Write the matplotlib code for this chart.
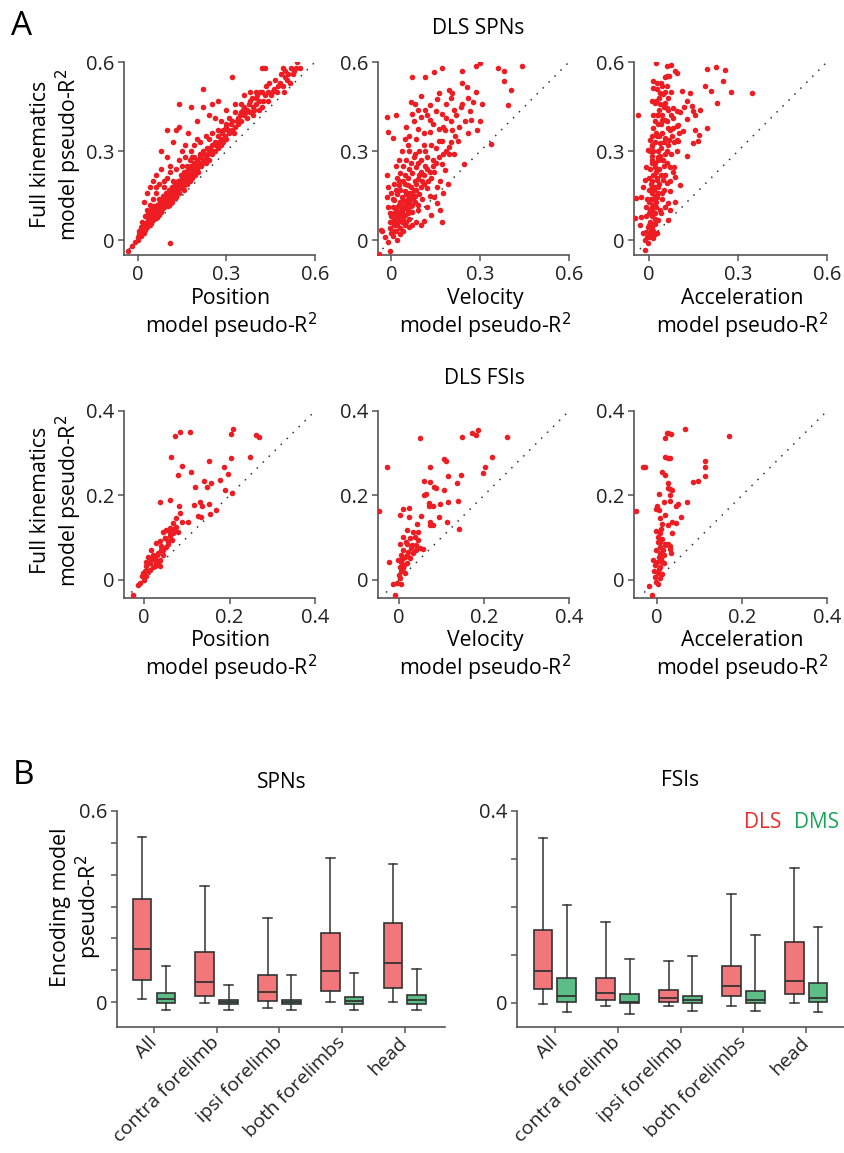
import matplotlib
matplotlib.use('Agg')
import matplotlib.pyplot as plt
import numpy as np

plt.rcParams['font.family'] = ['Open Sans', 'DejaVu Sans']

# ---- panel A data: (single-variable model R2, full model R2) ----
spn_pos = [
    (-0.035, -0.035), (-0.02, -0.02), (-0.01, -0.005), (0.0, 0.0), (0.0, 0.01), (0.005, 0.02), (0.01, 0.015),
    (0.01, 0.03), (0.015, 0.04), (0.02, 0.025), (0.02, 0.05), (0.025, 0.035), (0.03, 0.06), (0.03, 0.045),
    (0.035, 0.07), (0.04, 0.05), (0.04, 0.08), (0.045, 0.06), (0.05, 0.075), (0.05, 0.09), (0.055, 0.07),
    (0.06, 0.1), (0.06, 0.08), (0.065, 0.09), (0.07, 0.11), (0.07, 0.085), (0.075, 0.1), (0.08, 0.12),
    (0.08, 0.095), (0.085, 0.13), (0.09, 0.11), (0.09, 0.14), (0.095, 0.12), (0.1, 0.13), (0.1, 0.15),
    (0.105, 0.12), (0.11, 0.14), (0.11, 0.16), (0.115, 0.13), (0.12, 0.15), (0.12, 0.17), (0.125, 0.16),
    (0.13, 0.18), (0.13, 0.15), (0.135, 0.17), (0.14, 0.2), (0.14, 0.16), (0.145, 0.18), (0.15, 0.19),
    (0.15, 0.21), (0.155, 0.17), (0.16, 0.2), (0.16, 0.22), (0.165, 0.19), (0.17, 0.21), (0.17, 0.24),
    (0.175, 0.2), (0.18, 0.22), (0.18, 0.25), (0.185, 0.21), (0.19, 0.23), (0.19, 0.26), (0.195, 0.22),
    (0.2, 0.24), (0.2, 0.27), (0.205, 0.23), (0.21, 0.26), (0.21, 0.29), (0.215, 0.25), (0.22, 0.27),
    (0.22, 0.3), (0.23, 0.26), (0.23, 0.28), (0.235, 0.31), (0.24, 0.27), (0.24, 0.3), (0.25, 0.29),
    (0.25, 0.32), (0.26, 0.3), (0.26, 0.33), (0.27, 0.31), (0.27, 0.35), (0.28, 0.32), (0.28, 0.34),
    (0.29, 0.33), (0.29, 0.37), (0.3, 0.34), (0.3, 0.38), (0.31, 0.36), (0.32, 0.37), (0.32, 0.4),
    (0.33, 0.38), (0.34, 0.39), (0.34, 0.41), (0.35, 0.4), (0.35, 0.43), (0.36, 0.42), (0.36, 0.45),
    (0.37, 0.41), (0.37, 0.44), (0.38, 0.43), (0.38, 0.47), (0.39, 0.45), (0.39, 0.42), (0.4, 0.46),
    (0.4, 0.48), (0.41, 0.44), (0.41, 0.47), (0.42, 0.5), (0.42, 0.45), (0.43, 0.49), (0.44, 0.47),
    (0.44, 0.5), (0.45, 0.49), (0.46, 0.51), (0.47, 0.5), (0.48, 0.53), (0.49, 0.52), (0.5, 0.55),
    (0.51, 0.56), (0.52, 0.58), (0.53, 0.57), (0.54, 0.6), (0.55, 0.58), (0.5, 0.57), (0.49, 0.58),
    (0.43, 0.58), (0.42, 0.58), (0.32, 0.55), (0.22, 0.51), (0.14, 0.46), (0.18, 0.45), (0.22, 0.45),
    (0.25, 0.46), (0.27, 0.47), (0.1, 0.37), (0.13, 0.37), (0.14, 0.38), (0.17, 0.36), (0.2, 0.4),
    (0.24, 0.42), (0.26, 0.41), (0.3, 0.44), (0.33, 0.43), (0.28, 0.4), (0.08, 0.3), (0.1, 0.28),
    (0.12, 0.33), (0.15, 0.3), (0.16, 0.32), (0.11, 0.25), (0.06, 0.22), (0.08, 0.24), (0.05, 0.2),
    (0.07, 0.19), (0.03, 0.16), (0.04, 0.18), (0.02, 0.13), (0.05, 0.14), (0.1, 0.21), (0.13, 0.24),
    (0.18, 0.3), (0.2, 0.34), (0.23, 0.35), (0.25, 0.36), (0.19, 0.28), (0.15, 0.25), (0.12, 0.2),
    (0.09, 0.18), (0.06, 0.16), (0.03, 0.1), (0.04, 0.12), (0.07, 0.14), (0.11, -0.01),
    (0.015, 0.06), (0.025, 0.08), (0.035, 0.095), (0.045, 0.1), (0.055, 0.115), (0.065, 0.12),
    (0.075, 0.13), (0.085, 0.15), (0.095, 0.16), (0.105, 0.17), (0.115, 0.18), (0.125, 0.19),
    (0.135, 0.2), (0.145, 0.22), (0.155, 0.23), (0.165, 0.25), (0.175, 0.27), (0.185, 0.28),
    (0.005, 0.03), (0.012, 0.045), (0.018, 0.05), (0.022, 0.04), (0.028, 0.055), (0.032, 0.05),
    (0.038, 0.065), (0.042, 0.07), (0.048, 0.065), (0.052, 0.08), (0.058, 0.085), (0.062, 0.075),
    (0.068, 0.1), (0.072, 0.095), (0.078, 0.11), (0.082, 0.105), (0.088, 0.12), (0.092, 0.125),
    (0.098, 0.14), (0.102, 0.115), (0.108, 0.15), (0.112, 0.125), (0.118, 0.14), (0.122, 0.16),
    (0.128, 0.145), (0.132, 0.165), (0.138, 0.19), (0.142, 0.175), (0.148, 0.2), (0.152, 0.18),
    (0.158, 0.21), (0.162, 0.19), (0.168, 0.22), (0.172, 0.23), (0.178, 0.24), (0.182, 0.235),
    (0.188, 0.25), (0.192, 0.24), (0.198, 0.26), (0.205, 0.25), (0.212, 0.28), (0.218, 0.26),
    (0.225, 0.29), (0.232, 0.27), (0.238, 0.29), (0.245, 0.31), (0.255, 0.3), (0.265, 0.32),
    (0.275, 0.33), (0.285, 0.36), (0.295, 0.35), (0.305, 0.37), (0.315, 0.39), (0.325, 0.36),
    (0.335, 0.4), (0.345, 0.42), (0.355, 0.44), (0.365, 0.43), (0.375, 0.46), (0.385, 0.48),
    (0.395, 0.44), (0.405, 0.49), (0.415, 0.5), (0.425, 0.47), (0.435, 0.52), (0.445, 0.53),
    (0.455, 0.5), (0.465, 0.54), (0.475, 0.52), (0.485, 0.56), (0.495, 0.5), (0.505, 0.54),
    (0.515, 0.53), (0.525, 0.56), (0.535, 0.58), (0.06, 0.18), (0.09, 0.2), (0.11, 0.23), (0.14, 0.27),
    (0.16, 0.28), (0.19, 0.32), (0.21, 0.33), (0.24, 0.34), (0.27, 0.37), (0.3, 0.39), (0.31, 0.41),
    (0.35, 0.46), (0.38, 0.5), (0.4, 0.5), (0.36, 0.49), (0.33, 0.46),
]

spn_vel = [
    (-0.04, -0.045), (-0.005, -0.035), (-0.03, 0.03), (-0.02, 0.01), (-0.01, -0.005), (-0.035, 0.035),
    (-0.015, 0.415), (-0.01, 0.365), (0.005, 0.345), (0.015, 0.42), (-0.015, 0.22), (-0.01, 0.18),
    (-0.015, 0.145), (-0.01, 0.11), (0.07, 0.55), (0.115, 0.55), (0.145, 0.565), (0.17, 0.58),
    (0.285, 0.585), (0.3, 0.595), (0.36, 0.58), (0.38, 0.57), (0.44, 0.585), (0.38, 0.535),
    (0.405, 0.505), (0.395, 0.455), (0.335, 0.325), (0.245, 0.255), (0.24, 0.57), (0.255, 0.515),
    (0.24, 0.53), (0.285, 0.5), (0.275, 0.465), (0.265, 0.435), (0.305, 0.46), (0.3, 0.4), (0.29, 0.37),
    (0.26, 0.36), (0.27, 0.405), (0.235, 0.45), (0.195, 0.505), (0.205, 0.495), (0.2, 0.48),
    (0.185, 0.46), (0.16, 0.495), (0.155, 0.475), (0.13, 0.455), (0.115, 0.44), (0.15, 0.435),
    (0.17, 0.425), (0.13, 0.405), (0.1, 0.485), (0.1, 0.415), (0.08, 0.46), (0.07, 0.425), (0.065, 0.465),
    (0.09, 0.375), (0.085, 0.34), (0.05, 0.38), (0.06, 0.35), (0.045, 0.34), (0.095, 0.3), (0.115, 0.3),
    (0.135, 0.32), (0.16, 0.335), (0.17, 0.335), (0.195, 0.315), (0.195, 0.29), (0.21, 0.29),
    (0.225, 0.335), (0.205, 0.37), (0.18, 0.37), (0.16, 0.375), (0.13, 0.365), (0.11, 0.36), (0.08, 0.29),
    (0.06, 0.3), (0.05, 0.27), (0.04, 0.25), (0.03, 0.225), (0.04, 0.2), (0.055, 0.21), (0.07, 0.225),
    (0.085, 0.245), (0.1, 0.23), (0.115, 0.25), (0.125, 0.2), (0.135, 0.21), (0.145, 0.23), (0.155, 0.18),
    (0.145, 0.145), (0.13, 0.15), (0.12, 0.175), (0.105, 0.14), (0.095, 0.155), (0.085, 0.17),
    (0.07, 0.16), (0.055, 0.14), (0.045, 0.165), (0.03, 0.17), (0.02, 0.155), (0.01, 0.135),
    (0.005, 0.11), (0.015, 0.1), (0.025, 0.12), (0.04, 0.135), (0.05, 0.11), (0.065, 0.115),
    (0.08, 0.13), (0.07, 0.095), (0.055, 0.09), (0.04, 0.075), (0.025, 0.065), (0.01, 0.05),
    (-0.005, 0.04), (0.0, 0.025), (0.015, 0.03), (0.03, 0.04), (0.045, 0.05), (0.06, 0.07), (0.09, 0.1),
    (0.1, 0.05), (0.11, 0.065), (0.17, 0.06), (0.165, 0.1), (0.135, 0.085), (0.12, 0.11), (0.155, 0.125),
    (0.085, 0.06), (0.02, 0.0), (0.015, 0.075), (0.035, 0.09), (0.05, 0.06), (0.02, 0.085),
    (0.035, 0.105), (0.06, 0.125), (0.075, 0.145), (0.09, 0.12), (0.1, 0.18), (0.11, 0.19),
    (0.065, 0.18), (0.05, 0.155), (0.035, 0.145), (0.025, 0.185), (0.045, 0.22), (0.065, 0.26),
    (0.075, 0.28), (0.1, 0.27), (0.12, 0.28), (0.14, 0.27), (0.17, 0.255), (0.18, 0.235), (0.165, 0.2),
    (0.19, 0.19), (0.175, 0.16), (0.06, 0.045), (0.03, 0.02), (0.005, 0.065), (0.01, 0.09),
    (0.04, 0.03), (0.07, 0.05), (0.02, 0.11), (0.03, 0.13), (0.045, 0.12), (0.06, 0.15), (0.025, 0.2),
    (0.055, 0.185), (0.08, 0.2), (0.02, 0.05), (0.04, 0.105), (0.01, 0.07),
    (0.005, 0.015), (0.01, 0.03), (0.015, 0.05), (0.02, 0.065), (0.025, 0.08), (0.03, 0.095),
    (0.035, 0.06), (0.04, 0.115), (0.045, 0.085), (0.05, 0.13), (0.055, 0.1), (0.06, 0.16),
    (0.065, 0.14), (0.07, 0.12), (0.075, 0.17), (0.08, 0.15), (0.085, 0.19), (0.09, 0.205),
    (0.095, 0.22), (0.105, 0.2), (0.11, 0.22), (0.12, 0.24), (0.13, 0.23), (0.14, 0.25), (0.15, 0.26),
    (0.16, 0.28), (0.175, 0.29), (0.185, 0.3), (0.2, 0.33), (0.215, 0.35), (0.23, 0.38), (0.25, 0.4),
    (0.22, 0.42), (0.21, 0.44), (0.185, 0.41), (0.14, 0.39), (0.12, 0.42), (0.09, 0.44), (0.075, 0.4),
    (0.055, 0.32), (0.035, 0.3), (0.025, 0.27), (0.015, 0.25), (0.02, 0.21), (0.01, 0.19), (0.0, 0.16),
    (0.005, 0.14), (-0.005, 0.09), (-0.005, 0.06), (0.0, 0.08), (0.015, 0.17), (0.045, 0.19),
    (0.06, 0.24), (0.09, 0.26), (0.11, 0.32), (0.15, 0.31), (0.175, 0.38), (0.2, 0.4), (0.24, 0.46),
    (0.26, 0.48),
]

spn_acc = [
    (0.024, 0.598), (0.062, 0.587), (0.073, 0.589), (0.062, 0.553), (0.069, 0.553), (0.088, 0.57),
    (0.094, 0.564), (0.015, 0.536), (0.026, 0.53), (0.015, 0.513), (0.028, 0.508), (0.037, 0.496),
    (0.049, 0.491), (0.065, 0.48), (0.009, 0.468), (0.02, 0.462), (0.037, 0.457), (0.054, 0.462),
    (0.06, 0.446), (0.082, 0.446), (0.094, 0.434), (0.026, 0.423), (0.043, 0.406), (0.054, 0.406),
    (0.065, 0.378), (0.082, 0.378), (0.094, 0.384), (0.015, 0.378), (0.026, 0.35), (0.003, 0.338),
    (-0.002, 0.305), (0.009, 0.316), (0.037, 0.327), (0.054, 0.344), (0.069, 0.338), (0.077, 0.35),
    (0.094, 0.338), (0.037, 0.282), (0.049, 0.271), (0.06, 0.259), (0.071, 0.248), (0.082, 0.231),
    (0.02, 0.248), (0.032, 0.271), (0.009, 0.282), (-0.008, 0.248), (-0.014, 0.203), (-0.019, 0.18),
    (-0.025, 0.147), (0.009, 0.18), (0.026, 0.203), (0.049, 0.203), (0.06, 0.192), (0.043, 0.158),
    (0.026, 0.147), (0.003, 0.135), (-0.008, 0.113), (0.009, 0.102), (0.02, 0.09), (0.037, 0.102),
    (0.054, 0.113), (0.065, 0.124), (0.032, 0.068), (0.015, 0.056), (-0.002, 0.045), (-0.008, 0.028),
    (-0.019, 0.023), (0.003, 0.011), (0.015, 0.006), (0.026, 0.023), (-0.025, 0.079), (-0.03, 0.051),
    (-0.014, 0.0), (-0.002, -0.011), (0.005, 0.06), (0.01, 0.08), (0.015, 0.12), (0.02, 0.15),
    (0.0, 0.17), (0.012, 0.2), (0.018, 0.22), (0.005, 0.24), (0.022, 0.26), (0.03, 0.18), (0.008, 0.14),
    (0.0, 0.09), (0.025, 0.11), (0.015, 0.03), (0.005, 0.02), (0.03, 0.3), (0.04, 0.22), (0.045, 0.36),
    (0.01, 0.32), (0.02, 0.4), (0.05, 0.25), (0.06, 0.3), (0.035, 0.44), (0.045, 0.52), (0.075, 0.42),
    (0.055, 0.55), (-0.038, 0.423), (-0.042, 0.141), (-0.047, 0.073), (-0.014, -0.034),
    (0.195, 0.578), (0.226, 0.584), (0.257, 0.573), (0.249, 0.536), (0.276, 0.5), (0.347, 0.496),
    (0.189, 0.519), (0.209, 0.502), (0.229, 0.462), (0.195, 0.378), (0.169, 0.355), (0.167, 0.333),
    (0.15, 0.327), (0.156, 0.372), (0.127, 0.284), (0.144, 0.451), (0.15, 0.434), (0.156, 0.423),
    (0.173, 0.44), (0.139, 0.496), (0.111, 0.502), (0.116, 0.367), (0.127, 0.408), (0.099, 0.389),
    (0.099, 0.333), (0.094, 0.299), (0.105, 0.186), (0.088, 0.13), (0.071, 0.102), (0.065, 0.068),
    (0.086, 0.248), (0.088, 0.214), (0.071, 0.164), (0.01, 0.04), (0.02, 0.07), (0.0, 0.13),
    (0.018, 0.17), (0.028, 0.21), (0.01, 0.26), (0.035, 0.24), (0.015, 0.3), (0.04, 0.31), (0.025, 0.36),
    (0.05, 0.33), (0.03, 0.39), (0.045, 0.42), (0.055, 0.5), (0.035, 0.48), (0.012, 0.11), (0.006, 0.19),
    (0.0, 0.05), (0.005, 0.1), (0.015, 0.14), (0.02, 0.18), (0.0, 0.21), (0.025, 0.23), (0.012, 0.27),
    (0.03, 0.28), (0.005, 0.3), (0.02, 0.33), (0.035, 0.35), (0.01, 0.35), (0.03, 0.42), (0.04, 0.39),
    (0.05, 0.45), (0.025, 0.47), (0.04, 0.53), (0.06, 0.52), (0.015, 0.22), (0.01, 0.16), (0.025, 0.13),
    (0.03, 0.16), (0.035, 0.19), (0.045, 0.27), (0.055, 0.29), (0.065, 0.32), (0.07, 0.37), (0.08, 0.41),
    (0.06, 0.4), (0.015, 0.42), (-0.005, 0.14), (-0.01, 0.08), (0.02, 0.02), (0.008, 0.03),
    (-0.005, 0.01), (0.015, 0.09), (0.022, 0.055), (0.04, 0.09), (0.045, 0.14), (0.05, 0.17),
    (0.055, 0.22), (0.07, 0.2), (0.075, 0.29), (0.085, 0.33), (0.1, 0.36), (0.105, 0.43), (0.12, 0.45),
    (0.13, 0.47), (0.075, 0.5), (0.065, 0.44),
]

fsi_pos = [
    (-0.026, -0.036), (0.083, 0.351), (0.072, 0.341), (0.107, 0.35), (0.208, 0.357), (0.204, 0.346),
    (0.261, 0.342), (0.268, 0.338), (0.062, 0.292), (0.152, 0.282), (0.089, 0.27), (0.08, 0.249),
    (0.11, 0.255), (0.186, 0.268), (0.196, 0.25), (0.204, 0.288), (0.248, 0.29), (0.118, 0.221),
    (0.14, 0.234), (0.157, 0.23), (0.148, 0.219), (0.177, 0.237), (0.19, 0.213), (0.205, 0.205),
    (0.038, 0.185), (0.06, 0.188), (0.081, 0.176), (0.117, 0.178), (0.132, 0.185), (0.136, 0.174),
    (0.152, 0.18), (0.134, 0.15), (0.126, 0.152), (0.155, 0.155), (0.169, 0.166), (0.083, 0.158),
    (0.074, 0.146), (0.103, 0.136), (0.089, 0.136), (0.068, 0.134), (0.075, 0.126), (0.06, 0.122),
    (0.052, 0.118), (0.044, 0.114), (0.068, 0.11), (0.079, 0.114), (0.06, 0.103), (0.048, 0.099),
    (0.037, 0.091), (0.029, 0.087), (0.056, 0.091), (0.052, 0.079), (0.04, 0.071), (0.033, 0.063),
    (0.021, 0.055), (0.017, 0.047), (0.009, 0.039), (0.005, 0.032), (0.013, 0.024), (0.002, 0.02),
    (-0.002, 0.016), (-0.006, 0.008), (-0.01, -0.008), (-0.014, -0.012), (0.029, 0.039), (0.025, 0.032),
    (0.037, 0.047), (0.044, 0.059), (0.017, 0.071), (0.009, 0.055), (0.005, 0.043), (0.037, 0.032),
    (0.015, 0.04), (0.02, 0.03), (0.01, 0.02), (0.025, 0.05), (0.03, 0.06), (0.04, 0.08), (0.045, 0.07),
    (0.05, 0.1), (0.055, 0.085), (0.065, 0.095), (0.06, 0.11), (0.07, 0.12), (0.035, 0.045),
    (0.02, 0.06), (0.005, 0.01), (0.0, 0.0),
]

fsi_vel = [
    (-0.046, 0.162), (-0.027, 0.267), (-0.023, 0.043), (-0.009, -0.035), (0.049, 0.336), (0.149, 0.339),
    (0.173, 0.347), (0.182, 0.343), (0.186, 0.354), (0.254, 0.339), (0.105, 0.286), (0.11, 0.281),
    (0.219, 0.29), (0.202, 0.268), (0.199, 0.252), (0.073, 0.267), (0.059, 0.235), (0.074, 0.231),
    (0.116, 0.247), (0.145, 0.249), (0.137, 0.229), (0.082, 0.22), (0.088, 0.218), (0.106, 0.212),
    (0.065, 0.204), (0.059, 0.2), (0.009, 0.167), (0.002, 0.154), (0.024, 0.171), (0.071, 0.182),
    (0.071, 0.174), (0.081, 0.174), (0.096, 0.179), (0.116, 0.184), (0.139, 0.186), (0.024, 0.149),
    (0.053, 0.151), (0.095, 0.149), (0.073, 0.137), (0.073, 0.129), (0.081, 0.129), (0.113, 0.137),
    (0.141, 0.12), (0.043, 0.133), (0.034, 0.114), (0.018, 0.118), (0.045, 0.114), (0.01, 0.102),
    (0.026, 0.098), (0.037, 0.102), (0.045, 0.094), (0.002, 0.086), (0.018, 0.086), (0.03, 0.082),
    (0.041, 0.082), (0.057, 0.072), (0.01, 0.071), (0.022, 0.067), (0.034, 0.063), (0.004, 0.059),
    (0.014, 0.055), (0.026, 0.051), (-0.002, 0.047), (0.006, 0.043), (0.018, 0.039), (0.002, 0.031),
    (0.01, 0.027), (0.006, 0.02), (0.001, 0.012), (0.014, 0.016), (0.002, 0.004), (-0.013, -0.009),
    (-0.005, -0.008), (0.004, -0.009), (0.041, 0.071), (0.049, 0.075), (0.012, 0.035), (0.02, 0.06),
    (0.028, 0.075), (0.008, 0.05), (0.016, 0.09),
]

fsi_acc = [
    (-0.049, 0.162), (-0.033, 0.268), (-0.029, 0.268), (-0.018, -0.014), (-0.012, -0.035), (0.067, 0.357),
    (0.17, 0.341), (0.024, 0.349), (0.027, 0.347), (0.033, 0.345), (0.02, 0.337), (0.018, 0.29),
    (0.025, 0.288), (0.03, 0.288), (0.012, 0.255), (0.02, 0.249), (0.027, 0.229), (0.025, 0.218),
    (0.031, 0.216), (0.035, 0.212), (0.005, 0.204), (0.031, 0.2), (0.016, 0.184), (0.031, 0.187),
    (0.045, 0.176), (0.049, 0.18), (0.071, 0.184), (0.085, 0.231), (0.096, 0.234), (0.114, 0.281),
    (0.114, 0.268), (0.114, 0.247), (0.0, 0.176), (-0.002, 0.169), (0.004, 0.165), (0.02, 0.153),
    (0.006, 0.147), (0.057, 0.149), (0.035, 0.137), (0.045, 0.135), (0.012, 0.133), (0.025, 0.129),
    (0.035, 0.111), (-0.002, 0.116), (0.008, 0.11), (0.002, 0.102), (0.012, 0.096), (0.02, 0.086),
    (0.025, 0.085), (0.002, 0.09), (0.02, 0.082), (0.03, 0.08), (0.031, 0.074), (0.033, 0.064),
    (0.006, 0.078), (-0.002, 0.071), (0.008, 0.063), (0.016, 0.059), (0.004, 0.055), (-0.009, 0.047),
    (0.0, 0.043), (0.012, 0.043), (0.017, 0.039), (-0.004, 0.035), (0.008, 0.031), (-0.006, 0.02),
    (0.002, 0.016), (0.012, 0.014), (-0.004, 0.006), (0.006, 0.004), (-0.002, -0.004), (0.002, -0.009),
    (0.004, 0.025), (0.01, 0.05), (0.014, 0.07), (0.006, 0.09), (0.01, 0.12),
]

# ---- panel B data: (whisker low, q1, median, q3, whisker high) ----
categories = ['All', 'contra forelimb', 'ipsi forelimb', 'both forelimbs', 'head']
spn_dls = [(0.010, 0.070, 0.167, 0.324, 0.517), (-0.003, 0.018, 0.063, 0.157, 0.365),
           (-0.019, 0.002, 0.030, 0.085, 0.263), (-0.001, 0.036, 0.096, 0.216, 0.452),
           (0.001, 0.044, 0.124, 0.248, 0.435)]
spn_dms = [(-0.026, -0.003, 0.009, 0.028, 0.112), (-0.024, -0.006, 0.001, 0.007, 0.054),
           (-0.026, -0.006, 0.001, 0.007, 0.084), (-0.024, -0.006, 0.004, 0.016, 0.091),
           (-0.026, -0.005, 0.005, 0.023, 0.105)]
fsi_dls = [(-0.002, 0.030, 0.067, 0.152, 0.344), (-0.006, 0.007, 0.021, 0.053, 0.168),
           (-0.007, 0.003, 0.010, 0.028, 0.087), (-0.006, 0.014, 0.036, 0.078, 0.227),
           (0.0, 0.019, 0.046, 0.128, 0.282)]
fsi_dms = [(-0.019, 0.003, 0.014, 0.052, 0.204), (-0.022, 0.0, 0.003, 0.018, 0.091),
           (-0.016, 0.0, 0.007, 0.015, 0.097), (-0.017, 0.001, 0.007, 0.026, 0.142),
           (-0.018, 0.002, 0.010, 0.042, 0.159)]

DOT = '#ee1d23'
BOX_RED = '#f2777b'
BOX_GREEN = '#5cbd86'
EDGE = '#333333'
SPINE = '#555555'
TICK_FS = 14.5
LABEL_FS = 15.3
CAT_FS = 14
TITLE_FS = 15

W, H = 845, 1153
fig = plt.figure(figsize=(W / 100, H / 100), dpi=100)


def px_axes(left, top, right, bottom):
    return fig.add_axes([left / W, 1 - bottom / H, (right - left) / W, (bottom - top) / H])


def style(ax):
    for s in ['top', 'right']:
        ax.spines[s].set_visible(False)
    for s in ['left', 'bottom']:
        ax.spines[s].set_color(SPINE)
        ax.spines[s].set_linewidth(1.2)
    ax.tick_params(direction='out', length=4, width=1.1, color=SPINE, labelsize=TICK_FS,
                   labelcolor='#222222', pad=3)


def scatter_panel(ax, pts, lim, ticks, ticklabels, xlo, ylo, xname, ylabel):
    pts = np.array(pts)
    ax.plot([-0.03, lim], [-0.03, lim], color='#333333', lw=1.1, dashes=(1, 4.5))
    ax.scatter(pts[:, 0], pts[:, 1], s=16, color=DOT, linewidths=0, zorder=3)
    ax.set_xlim(xlo, lim)
    ax.set_ylim(ylo, lim)
    ax.set_xticks(ticks)
    ax.set_xticklabels(ticklabels)
    ax.set_yticks(ticks)
    ax.set_yticklabels(ticklabels)
    style(ax)
    ax.set_xlabel(xname + '\nmodel pseudo-R$^{2}$', fontsize=LABEL_FS, linespacing=1.1)
    ax.xaxis.set_label_coords(0.56, -0.17)
    if ylabel:
        ax.set_ylabel('Full kinematics\nmodel pseudo-R$^{2}$', fontsize=LABEL_FS, linespacing=1.1)
        ax.yaxis.set_label_coords(-0.21, 0.52)


lefts = [(124, 315), (378, 569), (634, 827)]
names = ['Position', 'Velocity', 'Acceleration']

top_data = [spn_pos, spn_vel, spn_acc]
top_xlo = [-0.047, -0.045, -0.05]
for i in range(3):
    ax = px_axes(lefts[i][0], 62, lefts[i][1], 255)
    scatter_panel(ax, top_data[i], 0.6, [0, 0.3, 0.6], ['0', '0.3', '0.6'],
                  top_xlo[i], -0.05, names[i], i == 0)

bot_data = [fsi_pos, fsi_vel, fsi_acc]
bot_xlo = [-0.047, -0.049, -0.054]
for i in range(3):
    ax = px_axes(lefts[i][0], 411, lefts[i][1], 598)
    scatter_panel(ax, bot_data[i], 0.4, [0, 0.2, 0.4], ['0', '0.2', '0.4'],
                  bot_xlo[i], -0.043, names[i], i == 0)


def box_panel(ax, dls, dms, ymax, ylo, xlo, xhi):
    pos = np.arange(1, len(categories) + 1)
    for data, off, col in [(dls, -0.19, BOX_RED), (dms, 0.19, BOX_GREEN)]:
        stats = [dict(whislo=d[0], q1=d[1], med=d[2], q3=d[3], whishi=d[4], fliers=[]) for d in data]
        ax.bxp(stats, positions=pos + off, widths=0.3, showfliers=False, patch_artist=True,
               boxprops=dict(facecolor=col, edgecolor=EDGE, linewidth=1.2),
               medianprops=dict(color=EDGE, linewidth=1.3),
               whiskerprops=dict(color=EDGE, linewidth=1.1),
               capprops=dict(color=EDGE, linewidth=1.1), capwidths=0.14)
    ax.set_xlim(xlo, xhi)
    ax.set_ylim(ylo, ymax)
    ax.set_xticks(pos)
    ax.set_xticklabels(categories, rotation=45, ha='right', va='center', rotation_mode='anchor')
    ax.set_yticks([0, ymax])
    ax.set_yticklabels(['0', '%g' % ymax])
    ax.set_yticks(np.arange(0.1, ymax, 0.1), minor=True)
    style(ax)
    ax.tick_params(axis='x', labelsize=CAT_FS, pad=5)
    ax.tick_params(which='minor', direction='out', length=4, width=1.1, color=SPINE)


axs = px_axes(117, 811, 445, 1027)
box_panel(axs, spn_dls, spn_dms, 0.6, -0.0785, 0.41, 5.64)
axs.set_ylabel('Encoding model\npseudo-R$^{2}$', fontsize=LABEL_FS, linespacing=1.1)
axs.yaxis.set_label_coords(-0.04, 0.555)

axf = px_axes(517, 811, 845, 1027)
box_panel(axf, fsi_dls, fsi_dms, 0.4, -0.05, 0.395, 5.62)

# titles and panel letters
fig.text(11 / W, 1 - 35 / H, 'A', fontsize=24, color='black')
fig.text(13 / W, 1 - 784 / H, 'B', fontsize=24, color='black')
fig.text(478 / W, 1 - 28 / H, 'DLS SPNs', fontsize=TITLE_FS, ha='center', va='center')
fig.text(484 / W, 1 - 378 / H, 'DLS FSIs', fontsize=TITLE_FS, ha='center', va='center')
fig.text(282 / W, 1 - 782 / H, 'SPNs', fontsize=TITLE_FS, ha='center', va='center')
fig.text(680 / W, 1 - 780 / H, 'FSIs', fontsize=TITLE_FS, ha='center', va='center')
fig.text(763 / W, 1 - 822 / H, 'DLS', fontsize=TITLE_FS, ha='center', va='center', color='#ec2a2f')
fig.text(817 / W, 1 - 822 / H, 'DMS', fontsize=TITLE_FS, ha='center', va='center', color='#17a556')

fig.savefig('out.png', dpi=100, facecolor='white')
